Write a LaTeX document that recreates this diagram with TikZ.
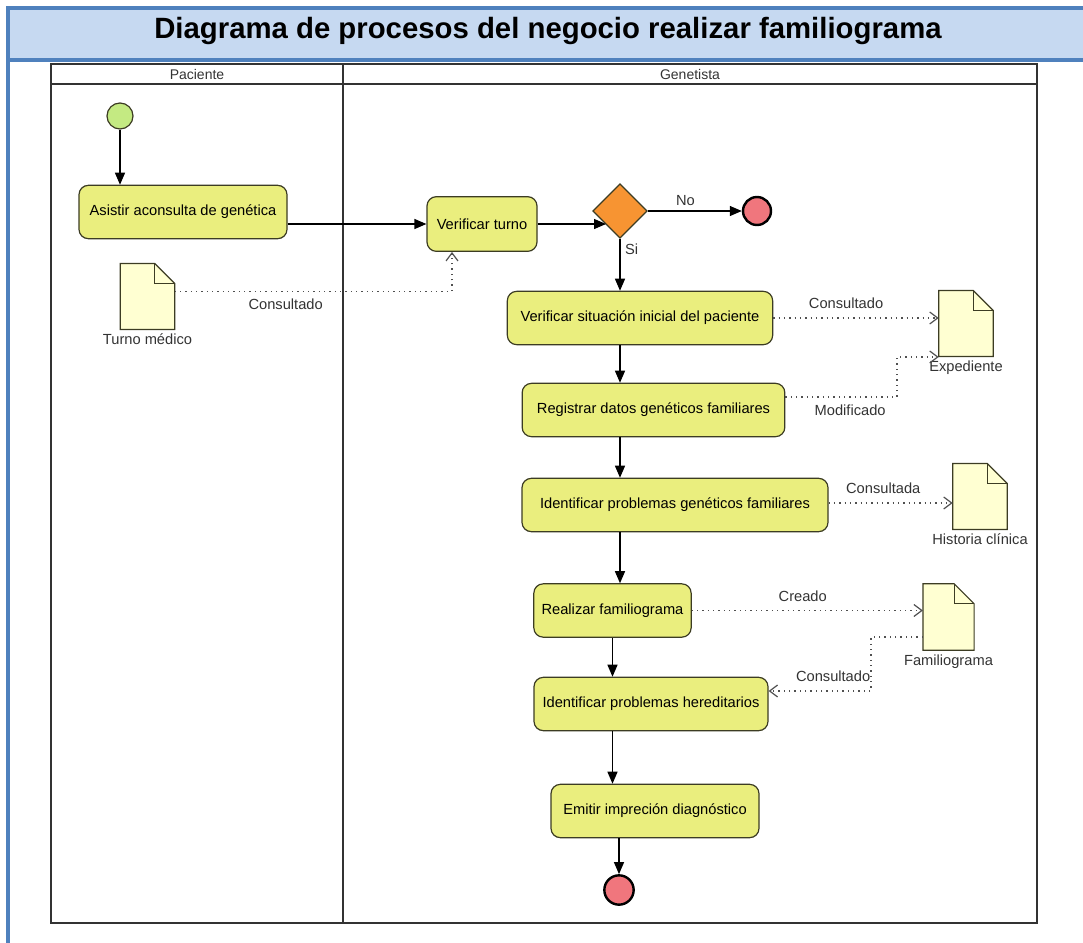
\documentclass[tikz,border=0pt]{standalone}
\usepackage{fontspec}
\setmainfont{Liberation Sans}
\usepackage{tikz}
\usetikzlibrary{arrows,arrows.meta,positioning,shapes.geometric}

\definecolor{bandfill}{RGB}{198,217,241}
\definecolor{bandline}{RGB}{79,129,189}
\definecolor{actfill}{RGB}{234,238,126}
\definecolor{actline}{RGB}{60,60,35}
\definecolor{inifill}{RGB}{196,234,130}
\definecolor{finfill}{RGB}{240,118,125}
\definecolor{decfill}{RGB}{247,148,50}
\definecolor{docfill}{RGB}{255,255,210}
\definecolor{depgray}{RGB}{80,80,80}

\begin{document}
\begin{tikzpicture}[x=0.75pt,y=-0.75pt,
  act/.style={draw=actline,fill=actfill,line width=0.9pt,rounded corners=7pt,minimum height=40pt,inner sep=2pt,font=\fontsize{11}{13}\selectfont},
  doc/.style={draw=none,minimum width=40.5pt,minimum height=49pt,inner sep=0pt,label distance=0pt},
  flow/.style={-{Triangle[length=9pt,width=7.5pt]},line width=0.9pt},
  dep/.style={-{Straight Barb[length=6pt,width=9pt,line width=0.9pt]},dash pattern=on 1pt off 3pt,line width=1pt,color=depgray},
  lbl/.style={font=\fontsize{11}{13}\selectfont,text=black!80}]
\useasboundingbox (0,0) rectangle (1083,943);
\fill[bandfill] (8,8) rectangle (1083,60);
\draw[bandline,line width=2.4pt] (1083,8) -- (8,8) -- (8,943);
\draw[bandline,line width=2.4pt] (8,60) -- (1083,60);
\node[font=\fontsize{22}{26}\selectfont\bfseries] (title) at (548,31) {Diagrama de procesos del negocio realizar familiograma};

\draw[line width=1pt,black!80] (51,64) rectangle (1037,923);
\draw[line width=1pt,black!80] (51,84) -- (1037,84);
\draw[line width=1pt,black!80] (343,64) -- (343,923);
\node[font=\fontsize{10.5}{12}\selectfont,text=black!80] (lpac) at (197,74) {Paciente};
\node[font=\fontsize{10.5}{12}\selectfont,text=black!80] (lgen) at (690,74) {Genetista};

\node[circle,draw=actline,fill=inifill,line width=0.9pt,minimum size=19.5pt,inner sep=0pt] (ini) at (120,116) {};
\node[act,minimum width=156pt] (asis) at (183,212) {Asistir aconsulta de genética};
\node[doc,label={[lbl]below:Turno médico}] (turno) at (147.5,296.5) {};
\node[act,minimum width=82.5pt,minimum height=41pt] (vturno) at (482,224) {Verificar turno};
\node[diamond,aspect=1,draw=actline,fill=decfill,line width=0.9pt,minimum size=41pt,inner sep=0pt] (dec) at (620,211) {};
\node[circle,draw=black,fill=finfill,line width=1.8pt,minimum size=21pt,inner sep=0pt] (finA) at (757,211) {};
\node[act,minimum width=199pt] (vsit) at (640,318) {Verificar situación inicial del paciente};
\node[doc,label={[lbl]below:Expediente}] (exped) at (966,323.5) {};
\node[act,minimum width=197pt] (reg) at (653.5,410) {Registrar datos genéticos familiares};
\node[act,minimum width=229.5pt] (igen) at (675,505) {Identificar problemas genéticos familiares};
\node[doc,label={[lbl]below:Historia clínica}] (hist) at (980,496.5) {};
\node[act,minimum width=118pt] (real) at (612.5,610.5) {Realizar familiograma};
\node[doc,minimum width=38pt,minimum height=49.5pt,label={[lbl]below:Familiograma}] (famil) at (948.5,617) {};
\node[act,minimum width=175.5pt] (hered) at (651,704) {Identificar problemas hereditarios};
\node[act,minimum width=156pt] (emitir) at (655,811) {Emitir impreción diagnóstico};
\node[circle,draw=black,fill=finfill,line width=1.8pt,minimum size=22pt,inner sep=0pt] (finB) at (619,890) {};

\foreach \d in {turno,exped,hist,famil}{
  \draw[draw=actline,fill=docfill,line width=0.9pt] (\d.south west) -- (\d.north west) -- ([xshift=-15pt]\d.north east) -- ([yshift=-15pt]\d.north east) -- (\d.south east) -- cycle;
  \draw[draw=actline,line width=0.9pt] ([xshift=-15pt]\d.north east) |- ([yshift=-15pt]\d.north east);
}

\coordinate (modb) at (897,357);
\coordinate (conb) at (871,691);

\draw[flow] (ini.south) -- (ini.south |- asis.north);
\draw[flow] (vturno.west -| asis.east) -- (vturno.west);
\draw[flow] (vturno.east) -- (vturno.east -| dec.south west);
\draw[flow] (dec.east) -- node[lbl,above,pos=0.4] {No} (finA.west);
\draw[flow] (dec.south) -- node[lbl,right,pos=0.2] {Si} (dec.south |- vsit.north);
\draw[flow] (dec.south |- vsit.south) -- (dec.south |- reg.north);
\draw[flow] (dec.south |- reg.south) -- (dec.south |- igen.north);
\draw[flow] (dec.south |- igen.south) -- (dec.south |- real.north);
\draw[flow] (real.south) -- (real.south |- hered.north);
\draw[flow] (real.south |- hered.south) -- (real.south |- emitir.north);
\draw[flow] (finB |- emitir.south) -- (finB.north);

\draw[dep] ([yshift=4pt]turno.east) -| node[lbl,below=2pt,pos=0.2] {Consultado} ([xshift=-22.5pt]vturno.south);
\draw[dep] (vsit.east) -- node[lbl,above=3pt,pos=0.44] {Consultado} (vsit.east -| exped.west);
\draw[dep] ([yshift=9.75pt]reg.east) -| node[lbl,below=2pt,pos=0.29] {Modificado} (modb) -- (modb -| exped.west);
\draw[dep] ([yshift=1.5pt]igen.east) -- node[lbl,above=3pt,pos=0.44] {Consultada} ([yshift=1.5pt]igen.east -| hist.west);
\draw[dep] (real.east) -- node[lbl,above=3pt,pos=0.48] {Creado} (real.east -| famil.west);
\draw[dep] (famil.south west |- 0,637) -| (conb) -- node[lbl,above=3pt,pos=0.37] {Consultado} (conb -| hered.east);
\end{tikzpicture}
\end{document}
